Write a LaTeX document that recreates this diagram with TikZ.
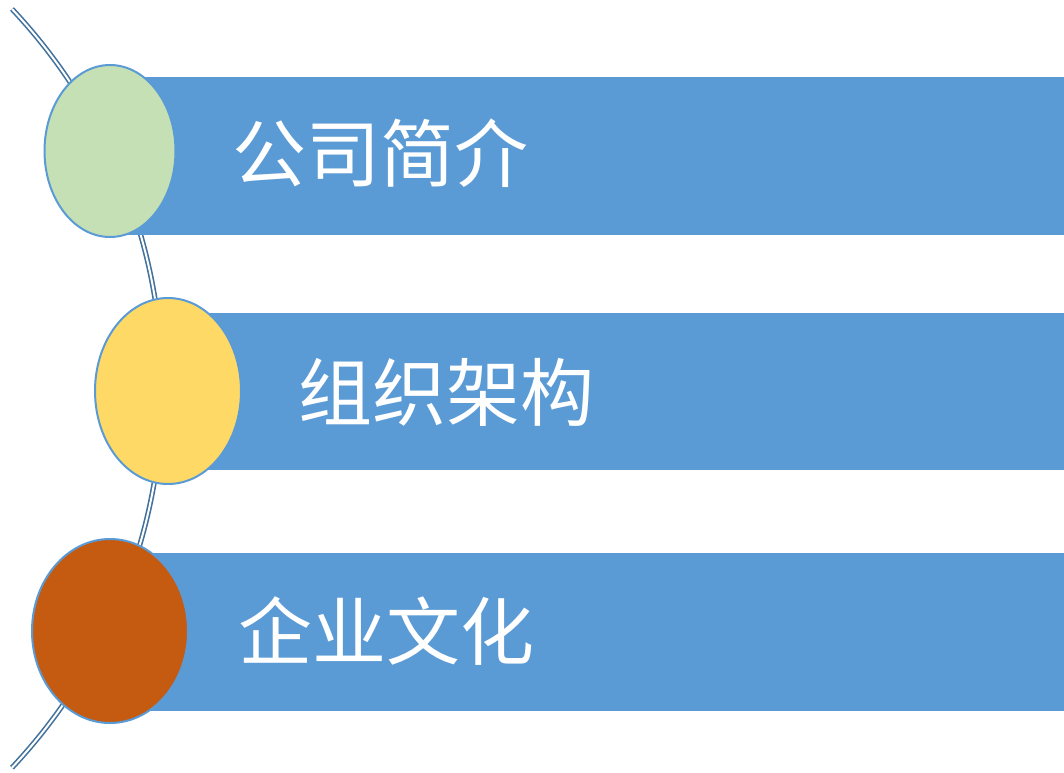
\documentclass[tikz,border=0pt]{standalone}
\usepackage{fontspec}
\usetikzlibrary{shapes.geometric}
\newfontfamily\cjk{Noto Sans CJK SC}
\definecolor{barblue}{HTML}{5B9BD5}
\definecolor{arcblue}{HTML}{41719C}
\definecolor{egreen}{HTML}{C5E0B4}
\definecolor{eyellow}{HTML}{FFD966}
\definecolor{eorange}{HTML}{C55A11}
\begin{document}
\begin{tikzpicture}[x=1pt,y=-1pt,
  bar/.style={fill=barblue,draw=none},
  dot/.style={ellipse,draw=barblue,line width=2pt,inner sep=0pt},
  label/.style={font=\cjk\fontsize{74}{74}\selectfont,text=white,anchor=west,inner sep=0pt}]
\useasboundingbox (0,0) rectangle (1064,772);
% arc
\draw[arcblue,line width=1.6pt,double=white,double distance=2pt]
  (12,9) arc[start angle={atan2(-379.5,403.8)}, end angle={atan2(379.5,403.8)}, radius=553.9];
% bars
\fill[bar] (110,77) rectangle (1064,235);
\fill[bar] (168,313) rectangle (1064,470);
\fill[bar] (110,553) rectangle (1064,711);
% ellipses
\node[dot,fill=egreen,minimum width=131,minimum height=172] (e1) at (110,151) {};
\node[dot,fill=eyellow,minimum width=146,minimum height=186] (e2) at (168,391) {};
\node[dot,fill=eorange,minimum width=156,minimum height=184] (e3) at (110,631) {};
% labels
\node[label] (t1) at (232,153) {公司简介};
\node[label] (t2) at (298,392) {组织架构};
\node[label] (t3) at (238,631) {企业文化};
\end{tikzpicture}
\end{document}
